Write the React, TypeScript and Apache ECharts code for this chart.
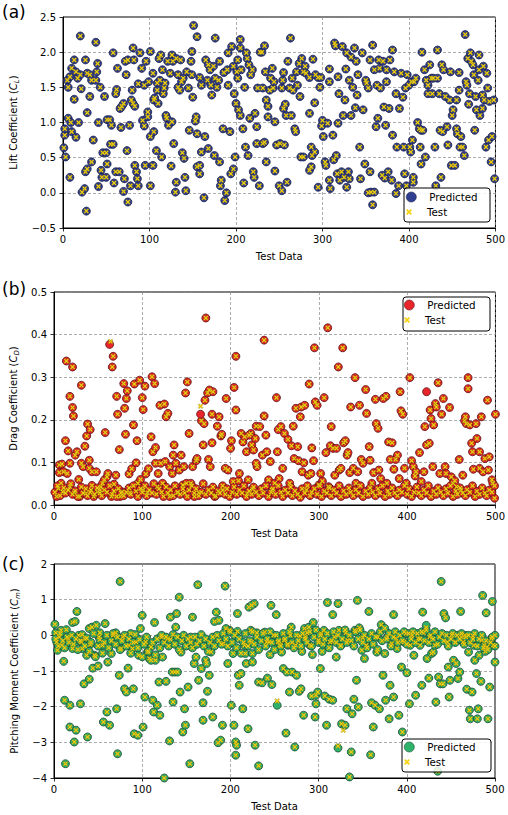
import React, { useEffect, useRef } from "react";
import * as echarts from "echarts";

const FONT = "DejaVu Sans";
const X_MIN = 0;
const X_MAX = 500;
const X_STEP = 100;

// ---------- (a) Lift coefficient ----------
const liftShared: number[][] = [
[1,0.64],[3,0.51],[2,0.82],[2,0.91],[6,1.06],[9,1.0],[10,0.87],[15,0.79],[18,1.0],[8,0.22],[5,1.6],[6,1.5],[8,1.65],[10,1.77],[13,1.89],[15,1.72],[17,1.63],[20,1.68],[13,1.33],[20,2.23],[21,1.48],[22,0.01],[25,0.06],[27,-0.26],[26,0.3],[28,0.34],[33,0.44],[28,1.14],[26,1.89],[28,1.7],[31,1.37],[31,1.68],[33,1.6],[35,0.75],[38,2.14],[38,1.6],[39,1.72],[40,1.84],[41,1.0],[41,0.09],[43,1.5],[44,0.32],[45,0.22],[46,0.57],[48,1.37],[50,0.57],[51,0.41],[50,0.22],[51,1.04],[54,1.04],[55,0.69],[56,0.96],[58,1.99],[58,0.69],[59,0.14],[61,1.41],[62,1.47],[61,0.3],[63,1.77],[65,0.3],[66,1.2],[68,1.23],[67,0.93],[70,1.27],[70,0.02],[71,0.2],[72,1.87],[73,1.68],[74,0.6],[75,-0.13],[75,1.89],[77,0.96],[78,0.1],[80,1.46],[79,1.32],[81,2.06],[82,1.89],[81,1.27],[83,1.23],[83,0.39],[85,0.3],[86,0.2],[87,0.1],[87,1.55],[89,1.99],[91,1.77],[92,1.03],[94,1.53],[94,0.95],[95,0.39],[96,1.87],[98,1.15],[98,1.08],[101,0.1],[101,2.01],[99,1.58],[101,0.8],[104,0.39],[105,0.87],[105,1.32],[104,1.7],[106,1.35],[108,0.6],[109,1.56],[109,1.46],[110,1.27],[111,1.91],[112,1.6],[113,1.96],[114,0.51],[115,1.75],[116,1.41],[117,1.49],[118,1.56],[119,1.1],[120,1.06],[121,1.87],[122,0.96],[124,1.7],[125,0.38],[126,1.01],[126,1.96],[127,1.87],[128,0.7],[130,0.01],[131,1.91],[131,0.15],[133,1.68],[133,1.5],[135,1.46],[136,1.89],[137,1.58],[138,0.57],[139,1.63],[140,0.49],[141,0.22],[142,0.03],[143,1.72],[145,1.49],[146,0.89],[148,1.87],[149,2.01],[149,1.68],[150,1.36],[151,2.38],[153,1.02],[154,1.08],[155,2.22],[155,0.84],[155,0.37],[158,0.39],[158,0.27],[158,1.64],[160,1.53],[160,0.58],[163,-0.07],[164,0.8],[165,1.89],[167,1.6],[168,0.63],[168,1.82],[170,1.75],[171,1.53],[172,1.39],[174,1.8],[175,0.53],[176,1.63],[176,2.2],[178,1.5],[180,1.6],[181,1.87],[181,0.44],[182,0.1],[183,0.18],[185,0.91],[186,1.71],[187,-0.11],[189,0.0],[190,1.75],[191,1.53],[191,1.99],[193,0.87],[194,0.27],[195,2.08],[197,1.8],[197,0.34],[198,1.41],[199,0.51],[200,1.27],[201,1.72],[202,1.63],[202,1.89],[203,1.18],[205,2.18],[205,2.06],[206,1.75],[205,1.1],[208,0.91],[209,0.14],[210,1.5],[211,0.65],[212,1.99],[213,1.91],[214,0.53],[215,1.82],[216,1.06],[217,1.68],[219,1.75],[220,0.3],[221,0.22],[222,1.13],[224,0.7],[224,0.94],[225,1.49],[227,0.1],[228,2.0],
[230,2.0],[233,2.09],[231,1.49],[234,1.72],[235,1.32],[237,1.08],[237,1.23],[239,1.46],[240,1.63],[242,1.77],[243,1.49],[244,1.58],[245,1.01],[231,0.7],[233,0.72],[235,0.44],[245,0.31],[247,0.68],[250,0.1],[251,0.7],[253,0.03],[253,1.49],[254,1.6],[255,1.71],[255,1.2],[256,0.68],[257,1.26],[258,1.1],[259,0.15],[260,1.87],[262,1.49],[263,2.2],[264,1.1],[265,1.63],[266,1.46],[268,0.91],[269,0.87],[270,1.72],[271,1.53],[273,1.84],[274,1.37],[275,0.51],[276,1.91],[278,0.51],[278,1.72],[280,1.8],[281,1.7],[285,1.64],[285,1.13],[285,0.32],[287,0.37],[287,0.65],[289,1.9],[288,0.53],[291,0.58],[291,1.28],[292,1.68],[295,1.64],[295,0.08],[297,1.5],[298,1.64],[300,1.03],[299,0.95],[301,0.8],[303,0.44],[304,0.39],[306,0.99],[308,1.76],[308,1.58],[308,0.18],[309,0.06],[312,0.82],[313,0.47],[314,2.13],[315,2.09],[316,0.53],[317,0.27],[318,1.65],[318,0.99],[319,1.41],[320,0.18],[322,0.3],[323,2.08],[324,1.1],[325,0.22],[326,1.32],[327,1.76],[328,1.99],[328,0.08],[330,0.3],[331,1.6],[331,0.2],[333,1.1],[333,1.93],[335,1.5],[337,2.06],[338,1.21],[339,1.87],[340,1.39],[341,1.68],[343,0.65],[344,0.2],[346,1.99],[347,1.18],[349,0.41],[350,1.6],[351,1.56],[353,1.49],[353,0.0],[355,1.89],[355,0.3],[356,0.01],[358,2.1],[358,-0.17],[360,1.75],[360,0.01],[362,0.94],[363,1.53],[364,1.06],[365,1.89],[366,1.77],[367,1.49],[369,0.25],[370,1.87],[371,1.22],[372,0.21],[373,0.96],[374,1.58],[374,1.75],[376,0.3],[377,1.2],[378,1.89],[380,0.18],[381,2.03],[381,0.82],[383,1.72],[385,1.41],[385,-0.01],[386,0.65],[388,0.1],[389,1.2],[391,1.7],[393,1.36],[394,0.65],[395,0.27],[396,1.49],[397,0.1],[398,1.68],[400,1.53],[401,0.65],[402,0.58],[403,1.58],[404,0.75],[405,0.22],[405,0.15],[406,1.58],[408,1.63],[410,1.0],[412,0.91],[413,0.65],[414,0.89],[414,0.41],[415,2.0],[416,0.89],[418,1.75],[419,0.51],[420,1.6],[422,1.53],[422,1.41],[424,1.82],[426,1.63],[427,1.41],[428,1.63],[430,0.65],[431,0.1],[433,1.63],[433,2.03],[435,1.41],[436,0.89],[437,0.22],[438,1.82],[439,0.87],[440,1.75],[442,1.37],[444,0.94],[445,0.68],[447,1.32],[448,1.72],[449,0.39],[450,1.1],[451,1.18],[453,0.39],[455,0.91],[455,1.32],[456,0.84],[458,1.46],[458,1.71],[459,0.65],[460,0.8],[462,0.65],[464,0.53],[465,2.25],[466,1.58],[467,1.53],[468,1.91],[469,1.26],[470,1.41],[471,1.99],[472,1.87],[474,1.82],[475,1.68],[476,0.89],[477,1.37],[478,1.18],[480,1.6],[481,1.96],[481,1.75],[482,1.1],[485,1.2],[485,1.39],[486,1.8],[487,1.32],[489,0.65],[490,1.7],[491,1.49],[492,0.75],[493,1.3],[495,0.44],[496,0.8],[498,1.32],[499,0.2]
];

// ---------- (b) Drag coefficient ----------
const dragShared: number[][] = [
[3,0.02],[5,0.039],[6,0.094],[6,0.076],[8,0.051],[10,0.031],[9,0.096],[11,0.078],[13,0.151],[14,0.338],[15,0.074],[16,0.127],[18,0.098],[18,0.043],[18,0.255],[21,0.324],[21,0.229],[22,0.209],[23,0.029],[24,0.117],[26,0.125],[28,0.06],[29,0.02],[31,0.281],[31,0.098],[33,0.09],[35,0.138],[36,0.027],[37,0.162],[38,0.19],[40,0.105],[41,0.177],[40,0.086],[42,0.035],[43,0.078],[45,0.02],[48,0.078],[49,0.031],[52,0.035],[53,0.043],[55,0.051],[57,0.059],[58,0.17],[60,0.066],[61,0.074],[65,0.02],[66,0.324],[67,0.349],[68,0.049],[70,0.07],[71,0.255],[72,0.213],[74,0.13],[75,0.02],[77,0.031],[79,0.285],[80,0.227],[81,0.166],[82,0.25],[83,0.268],[85,0.073],[86,0.029],[88,0.085],[90,0.188],[91,0.284],[93,0.099],[94,0.151],[95,0.051],[97,0.293],[98,0.06],[100,0.252],[101,0.224],[101,0.035],[103,0.279],[104,0.073],[106,0.029],[107,0.085],[110,0.16],[111,0.301],[112,0.125],[114,0.285],[115,0.135],[115,0.098],[117,0.043],[118,0.074],[120,0.234],[121,0.098],[123,0.051],[125,0.237],[126,0.102],[127,0.207],[129,0.215],[131,0.02],[131,0.09],[134,0.074],[135,0.117],[136,0.141],[138,0.098],[140,0.029],[142,0.082],[144,0.117],[146,0.047],[147,0.09],[149,0.263],[150,0.051],[151,0.289],[153,0.168],[155,0.051],[157,0.09],[159,0.02],[161,0.104],[162,0.109],[164,0.029],[167,0.198],[169,0.141],[170,0.191],[171,0.246],[172,0.439],[174,0.263],[175,0.107],[176,0.27],[177,0.09],[179,0.213],[179,0.146],[180,0.266],[182,0.02],[185,0.185],[187,0.207],[189,0.162],[190,0.166],[191,0.035],[194,0.086],[195,0.25],[197,0.082],[200,0.133],[201,0.151],[203,0.055],[204,0.276],[206,0.349],[206,0.223],[209,0.057],[210,0.074],[212,0.168],[214,0.148],[216,0.16],[218,0.125],[219,0.027],[220,0.059],[223,0.168],[224,0.141],[225,0.037],[228,0.156],[229,0.185],[230,0.09],
[221,0.164],[226,0.129],[229,0.098],[233,0.184],[236,0.117],[238,0.387],[238,0.209],[240,0.164],[241,0.125],[243,0.059],[245,0.102],[247,0.035],[250,0.051],[252,0.252],[253,0.125],[254,0.177],[255,0.062],[257,0.184],[259,0.086],[261,0.168],[265,0.154],[267,0.051],[269,0.139],[271,0.185],[272,0.109],[274,0.227],[276,0.137],[277,0.104],[279,0.207],[280,0.23],[281,0.078],[283,0.099],[284,0.234],[286,0.035],[288,0.07],[289,0.284],[291,0.074],[292,0.134],[294,0.104],[295,0.369],[296,0.242],[298,0.234],[300,0.047],[302,0.074],[304,0.056],[306,0.252],[308,0.123],[310,0.416],[311,0.043],[313,0.139],[314,0.184],[316,0.133],[318,0.07],[320,0.133],[322,0.324],[323,0.082],[325,0.086],[327,0.369],[328,0.146],[330,0.151],[332,0.117],[333,0.123],[335,0.076],[336,0.23],[339,0.086],[341,0.299],[342,0.051],[344,0.078],[346,0.234],[348,0.107],[350,0.098],[353,0.271],[354,0.215],[357,0.137],[358,0.105],[360,0.051],[362,0.076],[364,0.248],[365,0.191],[367,0.18],[368,0.082],[370,0.062],[373,0.25],[376,0.255],[377,0.051],[379,0.148],[381,0.107],[383,0.146],[385,0.084],[387,0.107],[389,0.117],[391,0.062],[392,0.266],[393,0.221],[395,0.213],[397,0.086],[399,0.051],[403,0.299],[405,0.104],[407,0.09],[409,0.068],[410,0.078],[414,0.123],[416,0.055],[419,0.078],[420,0.184],[422,0.141],[425,0.145],[426,0.223],[427,0.203],[429,0.09],[430,0.188],[432,0.238],[433,0.23],[435,0.287],[437,0.074],[439,0.213],[441,0.25],[443,0.09],[444,0.074],[448,0.229],[450,0.066],[452,0.051],[454,0.057],[456,0.043],[459,0.107],[461,0.035],[463,0.07],[465,0.198],[466,0.207],[467,0.191],[469,0.273],[469,0.299],[471,0.188],[473,0.145],[474,0.125],[475,0.084],[478,0.191],[479,0.156],[482,0.125],[482,0.086],[484,0.207],[486,0.078],[488,0.109],[491,0.246],[492,0.082],[493,0.113],[496,0.059],[497,0.051],[499,0.016],[500,0.213]
];
const dragLowBand: number[][] = [
[1,0.03],[4,0.045],[7,0.022],[11,0.04],[13,0.028],[16,0.035],[19,0.05],[21,0.025],[24,0.033],[27,0.02],[31,0.042],[33,0.028],[36,0.038],[38,0.022],[41,0.03],[43,0.046],[46,0.025],[49,0.04],[52,0.028],[54,0.022],[57,0.035],[60,0.03],[63,0.045],[66,0.025],[68,0.033],[71,0.02],[73,0.038],[76,0.028],[79,0.022],[82,0.03],[85,0.04],[87,0.025],[90,0.045],[93,0.032],[95,0.02],[98,0.038],[100,0.03],[103,0.045],[105,0.022],[108,0.035],[111,0.028],[113,0.05],[116,0.025],[119,0.038],[122,0.03],[124,0.02],[127,0.042],[129,0.028],[132,0.035],[135,0.022],[137,0.045],[140,0.03],[143,0.025],[146,0.038],[148,0.028],[151,0.02],[153,0.035],[156,0.045],[159,0.028],[161,0.038],[164,0.022],[167,0.03],[169,0.05],[172,0.025],[175,0.035],[178,0.028],[180,0.042],[183,0.022],[186,0.033],[188,0.028],[191,0.045],[194,0.025],[196,0.038],[199,0.02],[202,0.03],[204,0.042],[207,0.025],[210,0.035],[213,0.028],[215,0.045],[218,0.02],[221,0.033],[224,0.025],[226,0.042],[229,0.03],[232,0.022],[235,0.038],[237,0.028],[240,0.045],[243,0.02],[246,0.03],[248,0.038],[251,0.025],[254,0.045],[257,0.03],[259,0.02],[262,0.035],[265,0.028],[268,0.042],[270,0.022],[273,0.033],[276,0.025],[279,0.018],[281,0.038],[284,0.028],[287,0.045],[290,0.022],[292,0.03],[295,0.038],[298,0.025],[301,0.045],[303,0.02],[306,0.032],[309,0.028],[312,0.04],[314,0.022],[317,0.035],[320,0.028],[323,0.045],[325,0.02],[328,0.033],[331,0.025],[334,0.04],[336,0.03],[339,0.022],[342,0.036],[345,0.028],[347,0.045],[350,0.02],[353,0.032],[356,0.025],[358,0.04],[361,0.03],[364,0.022],[367,0.038],[369,0.028],[372,0.045],[375,0.02],[378,0.033],[380,0.025],[383,0.04],[386,0.028],[389,0.022],[391,0.035],[394,0.03],[397,0.045],[400,0.025],[402,0.038],[405,0.02],[408,0.03],[411,0.042],[413,0.028],[416,0.022],[419,0.035],[422,0.028],[424,0.045],[427,0.02],[430,0.032],[433,0.025],[435,0.04],[438,0.03],[441,0.022],[444,0.038],[446,0.028],[449,0.045],[452,0.02],[455,0.033],[457,0.025],[460,0.04],[463,0.028],[466,0.022],[468,0.036],[471,0.03],[474,0.045],[477,0.02],[479,0.032],[482,0.025],[485,0.04],[488,0.028],[490,0.022],[493,0.035],[496,0.03],[499,0.045]
];
const dragPredOnly: number[][] = [[422,0.266],[63,0.377],[166,0.213]];
const dragTestOnly: number[][] = [[64,0.384],[166,0.232]];

// ---------- (c) Pitching moment coefficient ----------
const momentShared: number[][] = [
[1,0.31],[2,0.07],[3,-0.19],[4,-0.42],[6,-0.05],[8,0.14],[9,-0.28],[11,-0.73],[12,-1.82],[13,-3.6],[14,0.16],[16,-0.09],[18,-2.57],[18,-1.96],[21,-0.37],[21,0.36],[23,-2.99],[24,0.39],[25,-2.66],[26,0.67],[28,0.0],[30,-1.92],[31,-0.19],[32,-0.37],[34,-1.36],[35,-0.09],[37,-0.56],[38,-2.85],[40,-1.23],[40,0.19],[41,-0.26],[43,0.23],[44,-0.92],[46,-0.56],[48,0.28],[50,-0.86],[51,-0.05],[52,0.07],[55,-0.28],[56,-2.43],[58,0.33],[60,-2.15],[61,-0.75],[63,-2.52],[65,-0.51],[67,0.0],[70,0.07],[71,-2.06],[72,-3.32],[74,-1.12],[75,1.51],[76,-0.37],[78,-0.05],[80,-1.5],[82,-1.59],[84,-0.92],[85,-0.28],[87,0.05],[89,-0.37],[90,-1.5],[91,-2.76],[93,-0.19],[95,-2.8],[96,-0.56],[98,0.19],[100,0.56],[101,-2.57],[103,-1.73],[104,-0.19],[106,-0.47],[108,-0.65],[110,-0.33],[112,-1.82],[113,-2.15],[114,0.36],[115,-0.7],[117,-1.96],[119,-1.31],[120,-2.24],[122,-0.05],[123,-0.61],[125,-4.0],[127,-1.29],[129,-0.09],[131,-2.96],[132,0.51],[134,-1.03],[135,-1.87],[137,-1.03],[138,0.23],[139,0.61],[140,-1.03],[142,1.07],[143,-1.59],[144,-0.47],[146,-2.71],[148,-2.06],[149,-2.52],[152,-1.45],[154,-3.6],[155,-0.05],[157,0.51],[159,-0.79],[161,-0.61],[163,1.42],[164,-1.26],[167,-0.93],[169,-2.38],[169,-1.89],[172,-0.7],[173,-0.79],[174,-1.57],[176,-1.12],[178,-0.47],[180,-2.29],[182,0.39],[184,0.65],[186,-3.01],[187,0.42],[189,-2.94],[191,-2.52],[192,-0.23],[194,1.38],[195,0.19],[197,-0.79],[199,0.14],[201,-1.96],[203,-0.51],[204,-2.52],[206,-2.99],[206,-3.36],[207,-3.08],[208,0.11],[208,0.61],[209,-1.12],[210,-1.4],[212,-1.07],[214,-2.06],[216,-0.28],[217,-0.51],[218,-0.79],[220,-2.62],[221,0.79],[223,0.14],[225,-0.75],[227,0.89],[228,-3.08],[230,0.07],[232,-3.66],[232,-1.31],
[224,0.84],[224,-0.19],[225,-0.51],[236,-1.33],[239,0.09],[241,-0.19],[242,-1.2],[244,-0.19],[245,-0.54],[246,0.84],[247,-1.38],[249,0.0],[252,0.58],[254,-0.19],[256,-0.28],[258,-0.47],[260,-0.93],[261,-0.14],[263,-2.74],[264,-1.03],[265,-0.28],[267,-1.59],[268,0.0],[269,0.23],[270,-1.03],[273,-3.13],[274,-0.28],[275,-1.12],[278,-1.57],[279,-0.02],[280,-1.5],[281,-0.45],[283,-2.24],[284,0.19],[285,-0.05],[287,0.07],[289,0.23],[290,-0.28],[292,-1.7],[293,-0.54],[294,0.36],[296,-2.29],[297,-1.68],[297,-1.92],[299,-1.59],[300,-0.14],[302,-0.93],[303,0.05],[304,-0.45],[306,0.14],[307,-1.7],[309,-2.52],[310,0.92],[312,-1.79],[313,-0.19],[316,-1.82],[316,0.58],[318,-0.05],[320,-0.61],[322,0.89],[323,0.14],[325,-0.28],[326,-2.48],[330,-2.52],[331,0.07],[332,-2.06],[333,-0.14],[335,-3.97],[337,-3.27],[338,-2.2],[340,-1.79],[341,0.14],[343,-1.26],[344,0.98],[345,-2.01],[346,0.21],[349,-0.42],[350,-0.07],[352,-0.65],[354,-0.28],[357,0.67],[359,-3.35],[360,-1.89],[362,-2.57],[364,-1.96],[366,-0.47],[367,-0.05],[369,-2.06],[371,0.3],[373,-1.12],[375,-0.51],[376,-1.82],[378,-0.05],[380,-2.34],[381,-1.4],[383,-0.23],[385,0.58],[385,-1.73],[388,-0.09],[389,-0.37],[391,-2.24],[394,-0.89],[395,-2.71],[397,-0.19],[399,0.05],[400,-1.05],[403,-1.92],[404,-0.28],[406,0.0],[408,-0.56],[410,-1.68],[413,-0.09],[415,-0.28],[417,-1.4],[418,0.65],[419,0.07],[423,-0.65],[425,-1.2],[426,-0.05],[428,-0.51],[430,-0.47],[432,-0.28],[433,-1.87],[435,-3.81],[436,-1.17],[438,-1.36],[439,1.51],[441,-1.36],[442,0.61],[444,0.49],[446,-0.19],[447,-0.89],[448,-1.73],[449,-1.26],[451,0.0],[453,-0.7],[455,-0.19],[456,-0.79],[458,-1.21],[460,-1.03],[461,0.67],[462,-0.05],[464,-0.19],[466,0.0],[468,-1.51],[470,-0.47],[471,-2.1],[472,-2.34],[474,-1.59],[475,-0.02],[476,-0.28],[477,-0.7],[479,-1.07],[480,-2.34],[481,-2.06],[482,-0.56],[484,-1.29],[485,-0.14],[486,1.12],[488,-0.28],[489,-0.45],[490,0.63],[491,-0.33],[492,-2.34],[494,-1.45],[496,-0.09],[497,0.95],[498,-0.28],[500,-0.75],[500,0.0]
];
const momentBand: number[][] = [
[2,-0.1],[5,-0.3],[7,0.05],[10,-0.15],[12,-0.35],[15,-0.05],[17,-0.2],[20,0.0],[22,-0.25],[25,-0.1],[27,-0.4],[30,-0.15],[32,0.02],[35,-0.3],[37,-0.08],[40,-0.45],[42,-0.2],[45,0.05],[47,-0.6],[50,-0.3],[52,-0.12],[55,-0.5],[57,-0.2],[60,0.0],[62,-0.35],[65,-0.15],[67,0.05],[70,-0.25],[72,-0.05],[75,-0.4],[77,-0.15],[80,0.0],[82,-0.3],[85,-0.1],[87,-0.5],[90,-0.2],[92,0.02],[95,-0.35],[97,-0.12],[100,-0.6],[102,-0.25],[105,-0.05],[107,-0.45],[110,-0.7],[112,-0.2],[115,-0.55],[117,-0.1],[120,-0.35],[122,0.0],[125,-0.2],[127,-0.05],[130,-0.3],[132,-0.12],[135,0.02],[137,-0.25],[140,-0.05],[142,-0.4],[145,-0.15],[147,0.0],[150,-0.3],[152,-0.1],[155,-0.2],[157,-0.35],[160,-0.05],[162,-0.25],[165,-0.15],[167,0.02],[170,-0.3],[172,-0.1],[175,-0.45],[177,-0.2],[180,-0.05],[182,-0.3],[185,0.0],[187,-0.15],[190,-0.25],[192,0.05],[195,-0.1],[197,-0.3],[200,0.1],[202,-0.2],[205,0.0],[207,-0.35],[210,-0.1],[212,-0.5],[215,-0.2],[217,0.05],[220,-0.3],[222,-0.15],[225,0.1],[227,-0.25],[230,-0.05],[232,-0.4],[235,-0.15],[237,0.05],[240,-0.3],[242,-0.1],[245,0.1],[247,-0.2],[250,-0.4],[252,0.0],[255,-0.15],[257,-0.3],[260,0.05],[262,-0.1],[265,-0.25],[267,0.1],[270,-0.2],[272,-0.35],[275,0.0],[277,-0.15],[280,-0.3],[282,0.05],[285,-0.1],[287,-0.2],[290,0.1],[292,-0.3],[295,-0.05],[297,0.15],[300,-0.2],[302,0.0],[305,-0.25],[307,-0.1],[310,0.05],[312,-0.35],[315,-0.15],[317,0.1],[320,-0.2],[322,0.0],[325,-0.3],[327,-0.1],[330,0.15],[332,-0.2],[335,0.0],[337,-0.15],[340,-0.3],[342,0.1],[345,-0.1],[347,0.15],[350,-0.2],[352,0.0],[355,-0.35],[357,-0.1],[360,0.05],[362,-0.25],[365,-0.05],[367,-0.4],[370,0.1],[372,-0.15],[375,0.2],[377,-0.1],[380,0.05],[382,-0.3],[385,-0.05],[387,0.1],[390,-0.2],[392,0.0],[395,-0.15],[397,0.1],[400,-0.25],[402,0.05],[405,-0.1],[407,0.1],[410,-0.2],[412,0.05],[415,-0.1],[417,0.1],[420,-0.15],[422,0.15],[425,-0.2],[427,0.0],[430,-0.1],[432,0.1],[435,-0.25],[437,-0.05],[440,0.05],[442,-0.15],[445,0.0],[447,-0.3],[450,-0.1],[452,0.05],[455,-0.2],[457,0.0],[460,-0.1],[462,0.05],[465,-0.25],[467,-0.05],[470,0.0],[472,-0.2],[475,-0.1],[477,0.05],[480,-0.3],[482,-0.1],[485,0.0],[487,-0.35],[490,-0.15],[492,-0.4],[495,-0.2],[497,-0.05],[500,-0.3]
];
const momentPredOnly: number[][] = [[422,0.28],[253,-1.96],[322,-3.16]];
const momentTestOnly: number[][] = [[422,0.22],[253,-1.84],[322,-3.1],[328,-2.66]];

// ---------- panels ----------
const panelLetters = ["(a)", "(b)", "(c)"];
const yNames = [
  "{t|Lift Coefficient (}{i|C}{s|L}{t|)}",
  "{t|Drag Coefficient (}{i|C}{s|D}{t|)}",
  "{t|Pitching Moment Coefficient (}{i|C}{s|m}{t|)}",
];
const yMins = [-0.5, 0, -4];
const yMaxs = [2.5, 0.5, 2];
const ySteps = [0.5, 0.1, 1];
const yDecimals = [1, 1, 0];
const predColors = ["#2f3e8e", "#e8252b", "#2fb36b"];
const predEdges = ["#1c2150", "#5c1414", "#1f4a32"];
const TEST_COLOR = "#f3d313";
const TEST_EDGE = "#6e5c00";

const X_PATH = "path://M0,2L2,0L5,3L8,0L10,2L7,5L10,8L8,10L5,7L2,10L0,8L3,5Z";

export default function App() {
  const ref = useRef<HTMLDivElement>(null);
  useEffect(() => {
    document.body.style.margin = "0";
    if (!ref.current) return;
    const chart = echarts.init(ref.current, undefined, { renderer: "svg" });

    const grids = [
      { left: 63, right: 12, top: 17, height: 211 },
      { left: 54, right: 12, top: 292, height: 213 },
      { left: 54, right: 13, top: 564, height: 214 },
    ];
    const nameGaps = [39, 30, 29];
    const legendPos = [
      { cx: 419, yP: 197, yT: 212, box: [404, 188, 86, 34] },
      { cx: 417, yP: 305, yT: 320, box: [403, 297, 87, 34] },
      { cx: 417, yP: 747, yT: 762, box: [402, 739, 89, 33] },
    ];
    const letterTops = [3, 280, 555];

    const predData = [
      liftShared,
      [...dragShared, ...dragLowBand, ...dragPredOnly],
      [...momentShared, ...momentBand, ...momentPredOnly],
    ];
    const testData = [
      liftShared,
      [...dragShared, ...dragLowBand, ...dragTestOnly],
      [...momentShared, ...momentBand, ...momentTestOnly],
    ];
    const suffix = ["a", "b", "c"];
    const fmtNum = (v: number, d: number) => {
      const s = Math.abs(v).toFixed(d);
      return v < -1e-9 ? "\u2212" + s : s;
    };

    const textBase = { fontFamily: FONT, color: "#000", fontSize: 10 };

    const option: any = {
      animation: false,
      textStyle: { fontFamily: FONT },
      grid: grids.map((g) => ({
        ...g,
        show: true,
        borderColor: "#000",
        borderWidth: 1,
        backgroundColor: "transparent",
        containLabel: false,
      })),
      xAxis: grids.map((_, i) => ({
        gridIndex: i,
        type: "value",
        min: X_MIN,
        max: X_MAX,
        interval: X_STEP,
        name: "Test Data",
        nameLocation: "middle",
        nameGap: 23,
        nameTextStyle: { ...textBase },
        axisLine: { show: true, onZero: false, lineStyle: { color: "#000", width: 1 } },
        axisTick: { show: true, length: 3.5, lineStyle: { color: "#000", width: 0.8 } },
        axisLabel: { ...textBase, margin: 6, showMaxLabel: true, showMinLabel: true },
        splitLine: { show: true, lineStyle: { color: "#8a8a8a", type: [3, 2], width: 0.7 } },
      })),
      yAxis: grids.map((_, i) => ({
        gridIndex: i,
        type: "value",
        min: yMins[i],
        max: yMaxs[i],
        interval: ySteps[i],
        name: yNames[i],
        nameLocation: "middle",
        nameRotate: 90,
        nameGap: nameGaps[i],
        nameTextStyle: {
          ...textBase,
          rich: {
            t: { fontFamily: FONT, fontSize: 10, color: "#000", lineHeight: 14 },
            i: { fontFamily: FONT, fontSize: 10, color: "#000", fontStyle: "italic", lineHeight: 14 },
            s: { fontFamily: FONT, fontSize: 7, color: "#000", fontStyle: "italic", lineHeight: 8, verticalAlign: "bottom" },
          },
        },
        axisLine: { show: true, onZero: false, lineStyle: { color: "#000", width: 1 } },
        axisTick: { show: true, length: 3.5, lineStyle: { color: "#000", width: 0.8 } },
        axisLabel: {
          ...textBase,
          margin: 7,
          showMaxLabel: true,
          showMinLabel: true,
          formatter: (v: number) => fmtNum(v, yDecimals[i]),
        },
        splitLine: { show: true, lineStyle: { color: "#8a8a8a", type: [3, 2], width: 0.7 } },
      })),
      legend: legendPos.flatMap((p, i) => [
        {
          data: [
            {
              name: "Predicted_" + suffix[i],
              itemStyle: { color: predColors[i], borderColor: predEdges[i], borderWidth: 0.6 },
            },
          ],
          left: p.cx - 13,
          top: p.yP - 6,
          itemWidth: 26,
          itemHeight: 10,
          padding: 0,
          selectedMode: false,
          formatter: (n: string) => n.split("_")[0],
          textStyle: { ...textBase, fontSize: 10.3, lineHeight: 12 },
          z: 6,
        },
        {
          data: [
            {
              name: "Test_" + suffix[i],
              itemStyle: { color: TEST_COLOR, borderColor: TEST_COLOR, borderWidth: 0 },
            },
          ],
          left: p.cx - 13,
          top: p.yT - 6,
          itemWidth: 26,
          itemHeight: 6,
          padding: 0,
          selectedMode: false,
          formatter: (n: string) => n.split("_")[0],
          textStyle: { ...textBase, fontSize: 10.3, lineHeight: 12 },
          z: 6,
        },
      ]),
      graphic: {
        elements: [
          ...legendPos.map((p) => ({
            type: "rect",
            shape: { x: p.box[0], y: p.box[1], width: p.box[2], height: p.box[3], r: 3 },
            style: { fill: "rgba(255,255,255,0.85)", stroke: "#000", lineWidth: 1 },
            z: 5,
          })),
          ...panelLetters.map((t, i) => ({
            type: "text",
            left: 2,
            top: letterTops[i],
            style: { text: t, font: "17px 'DejaVu Sans'", fill: "#000" },
            z: 5,
          })),
        ],
      },
      series: grids.flatMap((_, i) => [
        {
          name: "Predicted_" + suffix[i],
          type: "scatter",
          xAxisIndex: i,
          yAxisIndex: i,
          data: predData[i],
          symbol: "circle",
          symbolSize: 8,
          clip: true,
          itemStyle: { color: predColors[i], borderColor: predEdges[i], borderWidth: 0.8, opacity: 1 },
          emphasis: { disabled: true },
          z: 2,
        },
        {
          name: "Test_" + suffix[i],
          type: "scatter",
          xAxisIndex: i,
          yAxisIndex: i,
          data: testData[i],
          symbol: X_PATH,
          symbolSize: 5,
          clip: true,
          itemStyle: { color: TEST_COLOR, borderColor: TEST_EDGE, borderWidth: 0.3, opacity: 1 },
          emphasis: { disabled: true },
          z: 3,
        },
      ]),
    };
    chart.setOption(option);
    return () => chart.dispose();
  }, []);
  return <div ref={ref} style={{ width: 508, height: 815 }} />;
}
